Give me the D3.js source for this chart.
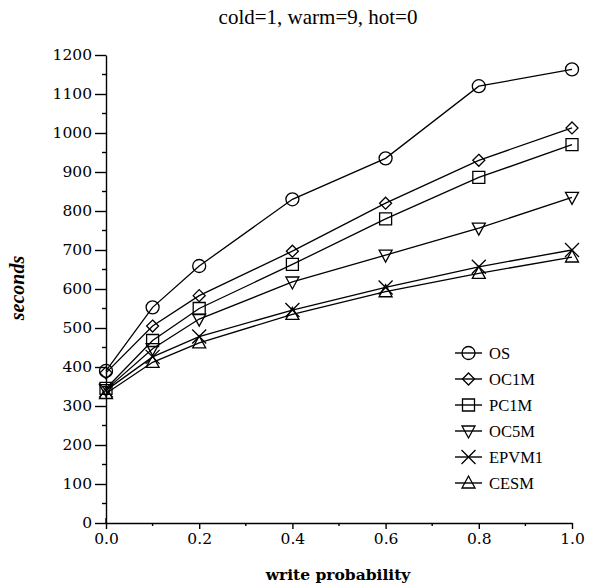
<!DOCTYPE html>
<html>
<head>
<meta charset="utf-8">
<title>cold=1, warm=9, hot=0</title>
<script src="https://cdn.jsdelivr.net/npm/d3@7"></script>
<style>
    body { margin: 0; background: #fff; }
    .axis path, .axis line { stroke: #000; stroke-width: 1.4; }
    .series { fill: none; stroke: #000; stroke-width: 1.3; }
    .mark { fill: none; stroke: #000; stroke-width: 1.3; }
</style>
</head>
<body>
<script>
// write probability values
var probs = [0, 0.1, 0.2, 0.4, 0.6, 0.8, 1.0];

// seconds per series
var osVals    = [390, 553, 659, 830, 935, 1120, 1163];
var oc1mVals  = [385, 505, 583, 697, 820, 930, 1013];
var pc1mVals  = [345, 468, 550, 663, 780, 886, 970];
var oc5mVals  = [342, 447, 523, 618, 687, 756, 835];
var epvm1Vals = [340, 426, 478, 546, 604, 657, 700];
var cesmVals  = [332, 412, 462, 535, 593, 640, 682];

var seriesNames = ["OS", "OC1M", "PC1M", "OC5M", "EPVM1", "CESM"];
var seriesMarks = ["circle", "diamond", "square", "triDown", "cross", "triUp"];
var seriesVals  = [osVals, oc1mVals, pc1mVals, oc5mVals, epvm1Vals, cesmVals];

var xTicks = [0, 0.2, 0.4, 0.6, 0.8, 1.0];
var yTicks = d3.range(0, 1201, 100);

var times = "'Liberation Serif', serif";
var book = "'DejaVu Serif', serif";

var width = 590, height = 588;
var x = d3.scaleLinear().domain([0, 1]).range([106, 572]);
var y = d3.scaleLinear().domain([0, 1200]).range([523, 55]);

var svg = d3.select("body").append("svg")
    .attr("width", width)
    .attr("height", height);

// marker shapes, centred on 0,0
function markPath(kind) {
    var p = d3.path();
    if (kind == "circle") {
        p.moveTo(6.5, 0); p.arc(0, 0, 6.5, 0, 2 * Math.PI);
    } else if (kind == "diamond") {
        p.moveTo(0, -6); p.lineTo(6, 0); p.lineTo(0, 6); p.lineTo(-6, 0); p.closePath();
    } else if (kind == "square") {
        p.rect(-6, -6, 12, 12);
    } else if (kind == "triDown") {
        p.moveTo(-6.5, -5); p.lineTo(6.5, -5); p.lineTo(0, 7); p.closePath();
    } else if (kind == "triUp") {
        p.moveTo(-6.5, 5); p.lineTo(6.5, 5); p.lineTo(0, -7); p.closePath();
    } else if (kind == "cross") {
        p.moveTo(-7, -7); p.lineTo(7, 7); p.moveTo(7, -7); p.lineTo(-7, 7);
    }
    return p.toString();
}

// y axis with minor ticks
var axisY = d3.axisLeft(y).tickValues(yTicks).tickFormat(d3.format("d"))
    .tickSize(11).tickPadding(3).tickSizeOuter(0);
var gy = svg.append("g").classed("axis", true)
    .attr("transform", "translate(" + x(0) + ",0)")
    .call(axisY)
    .attr("font-family", book).attr("font-size", 15.5);
gy.selectAll(".minor").data(d3.range(50, 1200, 100)).enter()
    .append("line").attr("class", "minor")
    .attr("x1", -4).attr("x2", 0)
    .attr("y1", function(d){ return y(d); }).attr("y2", function(d){ return y(d); });

// x axis with minor ticks
var axisX = d3.axisBottom(x).tickValues(xTicks).tickFormat(d3.format(".1f"))
    .tickSize(6).tickPadding(4).tickSizeOuter(0);
var gx = svg.append("g").classed("axis", true)
    .attr("transform", "translate(0," + y(0) + ")")
    .call(axisX)
    .attr("font-family", book).attr("font-size", 15.5);
gx.selectAll(".minor").data([0.1, 0.3, 0.5, 0.7, 0.9]).enter()
    .append("line").attr("class", "minor")
    .attr("y1", 0).attr("y2", 3)
    .attr("x1", function(d){ return x(d); }).attr("x2", function(d){ return x(d); });
// the 0.0 tick crosses the axis
gx.append("line").attr("x1", x(0)).attr("x2", x(0)).attr("y1", -5).attr("y2", 0);

// lines + markers
var line = d3.line()
    .x(function(d, i){ return x(probs[i]); })
    .y(function(d){ return y(d); });

seriesVals.forEach(function(vals, k) {
    svg.append("path").attr("class", "series").attr("d", line(vals));
    svg.selectAll(".m" + k).data(vals).enter()
        .append("path").attr("class", "mark m" + k)
        .attr("transform", function(d, i){ return "translate(" + x(probs[i]) + "," + y(d) + ")"; })
        .attr("d", markPath(seriesMarks[k]));
});

// legend
var lg = svg.append("g").attr("transform", "translate(455,353)")
    .attr("font-family", times).attr("font-size", 16.5);
seriesNames.forEach(function(name, k) {
    var row = lg.append("g").attr("transform", "translate(0," + (k * 26) + ")");
    row.append("line").attr("x1", 0).attr("x2", 27).attr("y1", 0).attr("y2", 0)
        .attr("stroke", "#000").attr("stroke-width", 1.4);
    row.append("path").attr("class", "mark").attr("transform", "translate(13.5,0)")
        .attr("d", markPath(seriesMarks[k]));
    row.append("text").attr("x", 34).attr("y", 5.5).text(name);
});

// titles
svg.append("text").attr("x", 318).attr("y", 24).attr("text-anchor", "middle")
    .attr("font-family", times).attr("font-size", 21).text("cold=1, warm=9, hot=0");
svg.append("text").attr("x", 338).attr("y", 580).attr("text-anchor", "middle")
    .attr("font-family", book).attr("font-size", 15.5).attr("font-weight", "bold")
    .text("write probability");
svg.append("text").attr("transform", "translate(24,288) rotate(-90)").attr("text-anchor", "middle")
    .attr("font-family", times).attr("font-size", 20).attr("font-weight", "bold")
    .attr("font-style", "italic").text("seconds");
</script>
</body>
</html>
